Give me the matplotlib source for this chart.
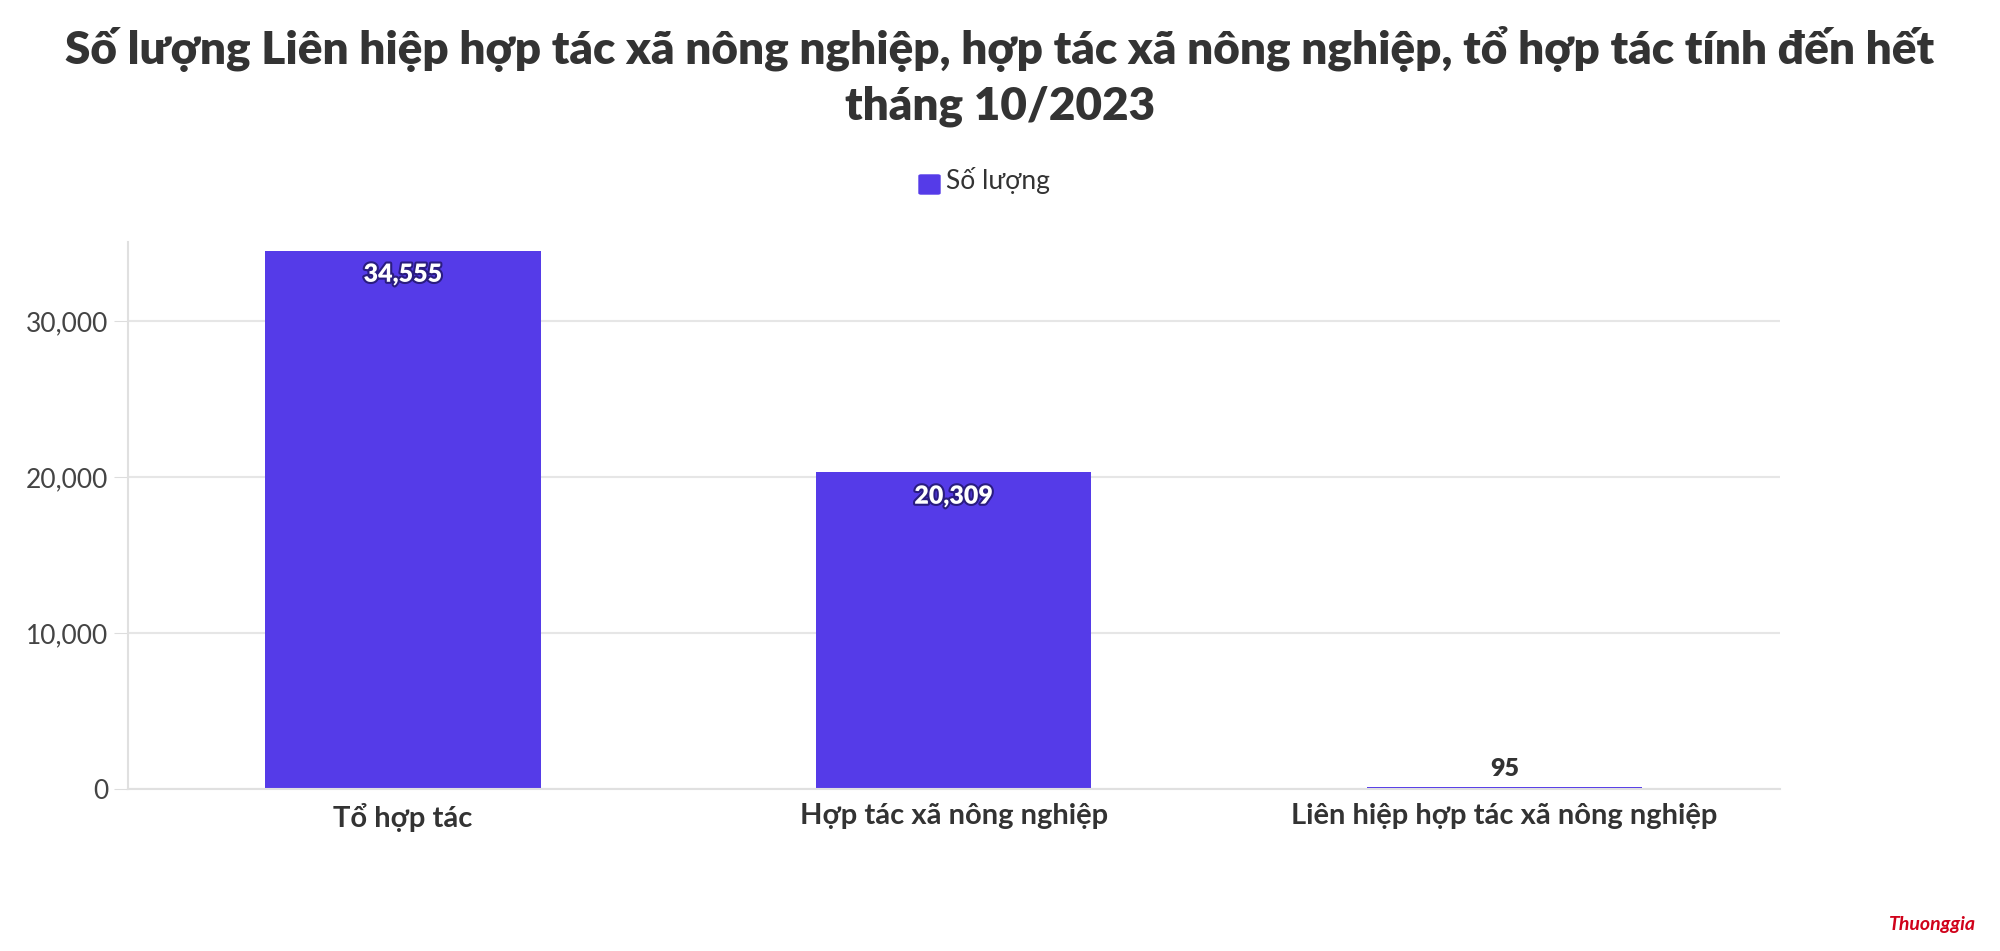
import matplotlib
matplotlib.use("Agg")
import matplotlib.pyplot as plt
import matplotlib.patheffects as pe

categories = ["Tổ hợp tác", "Hợp tác xã nông nghiệp", "Liên hiệp hợp tác xã nông nghiệp"]
values = [34555, 20309, 95]
yticks = [0, 10000, 20000, 30000]

plt.rcParams['font.family'] = ['Lato', 'DejaVu Sans']
fig = plt.figure(figsize=(20, 9.51), dpi=100)
ax = fig.add_axes([0.0638, 0.1705, 0.826, 0.575])
color = "#553BE8"
x = list(range(len(categories)))
ax.bar(x, values, width=0.5, color=color)
ax.set_xlim(-0.5, 2.5)
ax.set_ylim(0, 35100)
ax.set_yticks(yticks)
ax.set_yticklabels([f"{v:,}" for v in yticks], fontsize=19, color="#444444")
ax.set_xticks(x)
ax.set_xticklabels(categories, fontsize=21, fontweight="bold", color="#333333")
ax.tick_params(axis="y", length=10, color="#dddddd", pad=4)
ax.tick_params(axis="x", length=0, pad=10)
ax.grid(axis="y", color="#e6e6e6", linewidth=1.5)
ax.set_axisbelow(True)
for s in ["top", "right"]:
    ax.spines[s].set_visible(False)
ax.spines["left"].set_color("#e0e0e0")
ax.spines["bottom"].set_color("#e0e0e0")
ax.spines["left"].set_linewidth(1.5)
ax.spines["bottom"].set_linewidth(1.5)
for xi, v in zip(x, values):
    if v > 3000:
        ax.text(xi, v - 850, f"{v:,}", ha="center", va="top", fontsize=18, fontweight="heavy",
                color="white", path_effects=[pe.withStroke(linewidth=3, foreground="#2a1c80")])
    else:
        ax.text(xi, v + 450, f"{v:,}", ha="center", va="bottom", fontsize=18, fontweight="heavy",
                color="#333333")
fig.text(0.5, 0.92, "Số lượng Liên hiệp hợp tác xã nông nghiệp, hợp tác xã nông nghiệp, tổ hợp tác tính đến hết\ntháng 10/2023",
         ha="center", va="center", fontsize=33, fontweight="heavy", color="#333333", linespacing=1.4)
fig.patches.append(matplotlib.patches.FancyBboxPatch((0.4605, 0.797), 0.0085, 0.018, boxstyle="round,pad=0.001",
                   transform=fig.transFigure, color=color))
fig.text(0.473, 0.81, "Số lượng", ha="left", va="center", fontsize=19, color="#333333")
fig.text(0.988, 0.028, "Thuonggia", ha="right", va="center", fontsize=14, color="#d0021b",
         fontweight="bold", style="italic")
fig.savefig("out.png", dpi=100, facecolor="white")
